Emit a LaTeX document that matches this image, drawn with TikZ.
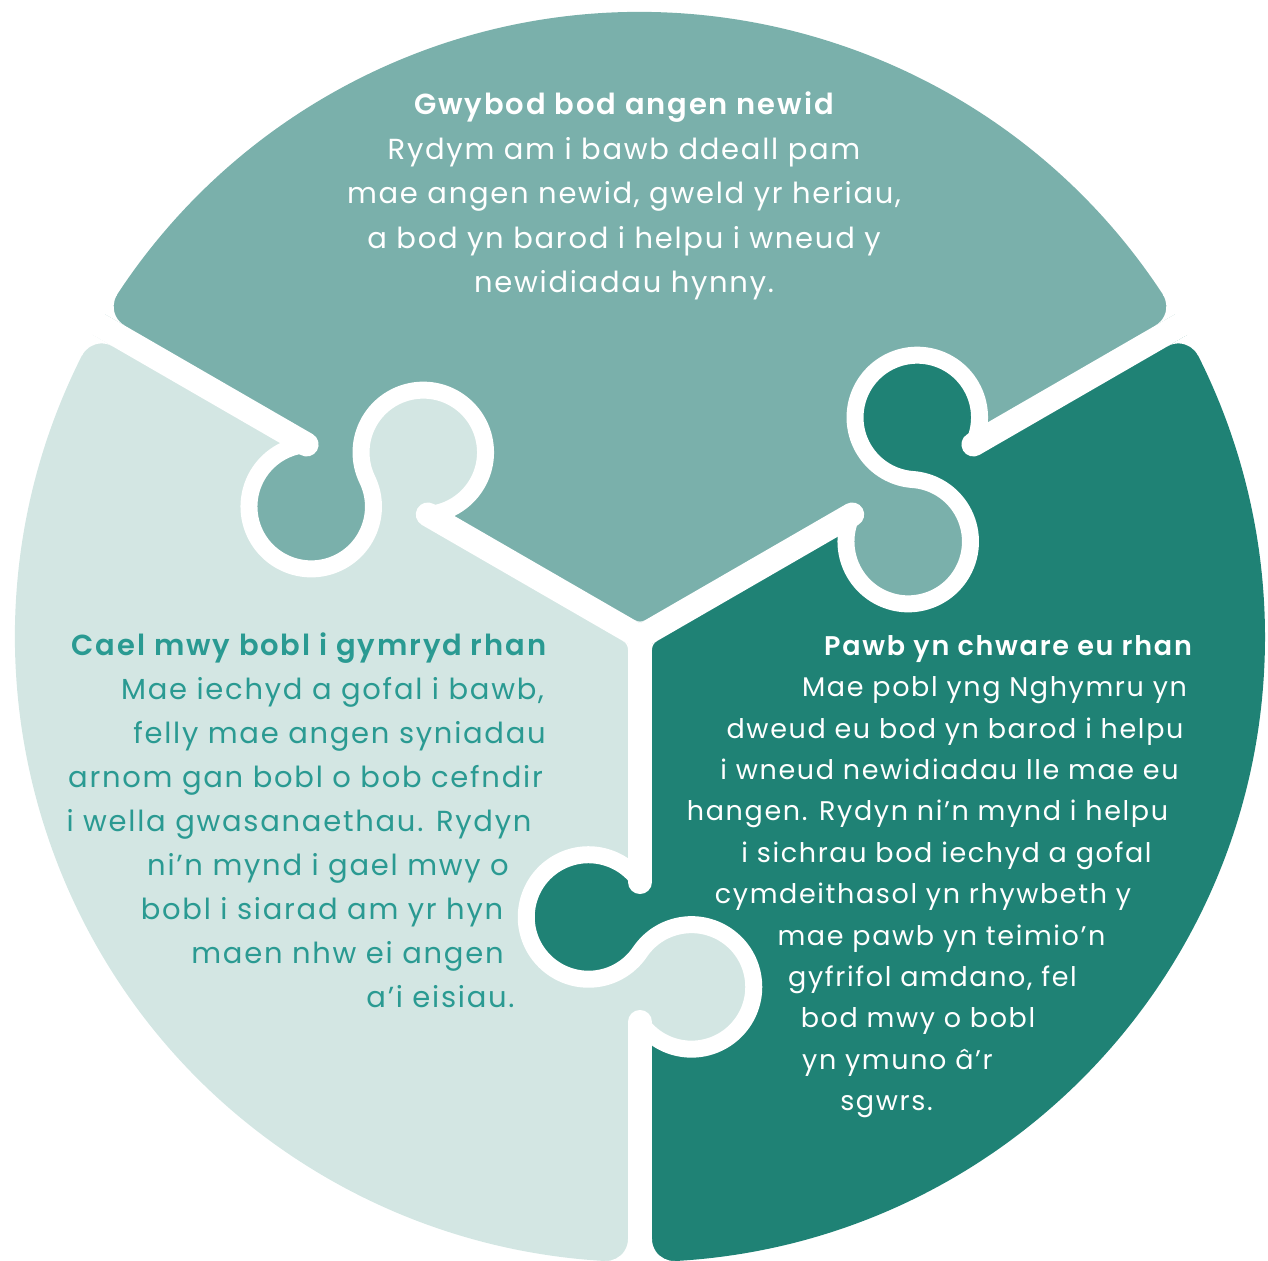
\documentclass[tikz,border=0pt]{standalone}
\usepackage{fontspec}
\setmainfont{Poppins}
\newfontfamily\bodyfont{Poppins}[LetterSpace=6]
\newfontfamily\semifont{Poppins SemiBold}[LetterSpace=6.5]
\definecolor{topc}{HTML}{7AB0AB}
\definecolor{leftc}{HTML}{D3E6E3}
\definecolor{darkc}{HTML}{1F8275}
\definecolor{ltext}{HTML}{2A9A92}
\begin{document}
\begin{tikzpicture}[x=1pt,y=1pt,
  band/.style={white, line width=24pt, line cap=round},
  sband/.style={white, line width=17pt, line cap=round, line join=round},
  ttl/.style={font=\fontsize{29}{32}\semifont, anchor=base, inner sep=0pt},
  body/.style={font=\fontsize{29}{32}\bodyfont, anchor=base, inner sep=0pt},
  rttl/.style={font=\fontsize{27}{30}\semifont, anchor=base, inner sep=0pt},
  rbody/.style={font=\fontsize{27}{30}\bodyfont, anchor=base, inner sep=0pt},
]
\useasboundingbox (0,0) rectangle (1268,1260);
\coordinate (C) at (640,623);
\def\R{625}
% sectors
\fill[topc]  (C) -- ++(30:\R)  arc[start angle=30,  end angle=150, radius=\R] -- cycle;
\fill[leftc] (C) -- ++(150:\R) arc[start angle=150, end angle=270, radius=\R] -- cycle;
\fill[darkc] (C) -- ++(270:\R) arc[start angle=270, end angle=390, radius=\R] -- cycle;
% dividers with interlocking knobs
\foreach \th/\lc/\hc in {150/topc/leftc, 270/leftc/darkc, 30/darkc/topc}{
  \begin{scope}[shift={(C)}, rotate=\th]
    \fill[\lc] (350,51.5) circle[radius=62.25];
    \fill[\hc] (280,-51.5) circle[radius=62.25];
    \draw[band] (0,0) -- (245.03,0);
    \draw[sband] (245.03,0) arc[start angle=124.17, end angle=415.83, radius=62.25]
                 arc[start angle=235.83, end angle=-55.83, radius=62.25];
    \draw[band] (384.97,0) -- (680,0);
    \fill[white] (602.04,12) -- (690,12) -- (3.232:690) -- (3.232:625)
                 arc[start angle=3.232, end angle=-90, radius=22] -- cycle;
    \fill[white] (602.04,-12) -- (690,-12) -- (-3.232:690) -- (-3.232:625)
                 arc[start angle=-3.232, end angle=90, radius=22] -- cycle;
  \end{scope}
}
% rounded inner corners
\foreach \rr in {0,120,240}{
  \fill[white, shift={(C)}, rotate=\rr] (5,16.74) -- (0,13.86) -- (-5,16.74)
        arc[start angle=-120, end angle=-60, radius=10] -- cycle;
}
% top text
\node[ttl, white]  (t0) at (624,1145)   {Gwybod bod angen newid};
\node[body, white] (t1) at (624,1100.5) {Rydym am i bawb ddeall pam};
\node[body, white] (t2) at (624,1056)   {mae angen newid, gweld yr heriau,};
\node[body, white] (t3) at (624,1011.5) {a bod yn barod i helpu i wneud y};
\node[body, white] (t4) at (624,967)    {newidiadau hynny.};
% left text
\node[ttl, ltext]  (l0) at (309,604)   {Cael mwy bobl i gymryd rhan};
\node[body, ltext] (l1) at (332.5,560) {Mae iechyd a gofal i bawb,};
\node[body, ltext] (l2) at (339.5,516) {felly mae angen syniadau};
\node[body, ltext] (l3) at (305.5,472) {arnom gan bobl o bob cefndir};
\node[body, ltext] (l4) at (299,428)   {i wella gwasanaethau. Rydyn};
\node[body, ltext] (l5) at (328,384)   {ni’n mynd i gael mwy o};
\node[body, ltext] (l6) at (322,340)   {bobl i siarad am yr hyn};
\node[body, ltext] (l7) at (347.5,296) {maen nhw ei angen};
\node[body, ltext] (l8) at (440.5,252) {a’i eisiau.};
% right text
\node[rttl, white]  (r0)  at (1008,604.7)  {Pawb yn chware eu rhan};
\node[rbody, white] (r1)  at (994.5,563.3) {Mae pobl yng Nghymru yn};
\node[rbody, white] (r2)  at (955,521.9)   {dweud eu bod yn barod i helpu};
\node[rbody, white] (r3)  at (949.5,480.5) {i wneud newidiadau lle mae eu};
\node[rbody, white] (r4)  at (927.5,439.1) {hangen. Rydyn ni’n mynd i helpu};
\node[rbody, white] (r5)  at (946.5,397.7) {i sichrau bod iechyd a gofal};
\node[rbody, white] (r6)  at (923,356.3)   {cymdeithasol yn rhywbeth y};
\node[rbody, white] (r7)  at (941.5,314.9) {mae pawb yn teimio’n};
\node[rbody, white] (r8)  at (932.5,273.5) {gyfrifol amdano, fel};
\node[rbody, white] (r9)  at (918,232.1)   {bod mwy o bobl};
\node[rbody, white] (r10) at (897.5,190.7) {yn ymuno â’r};
\node[rbody, white] (r11) at (886.5,149.3) {sgwrs.};
\end{tikzpicture}
\end{document}
